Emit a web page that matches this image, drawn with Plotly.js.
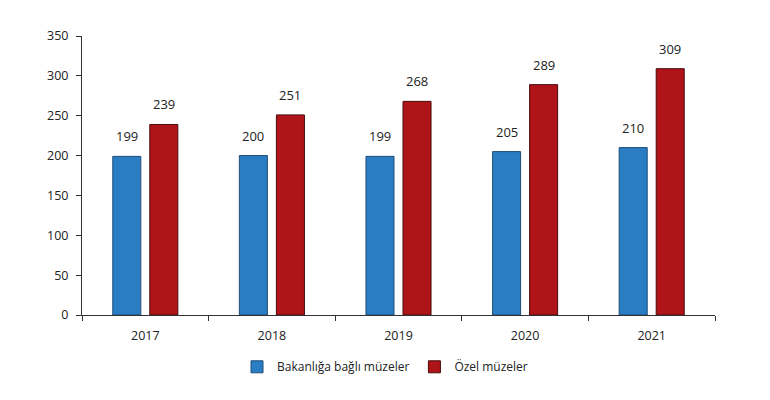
<!DOCTYPE html>
<html>
<head>
<meta charset="utf-8">
<script src="https://cdn.plot.ly/plotly-3.0.1.min.js"></script>
<style>
  html, body { margin: 0; padding: 0; background: #fff; }
  #graph { width: 770px; height: 400px; }
</style>
</head>
<body>
<div id="graph"></div>
<script>
// museum counts per year
const years = ['2017', '2018', '2019', '2020', '2021'];
const bakanlik = [199, 200, 199, 205, 210];
const ozel = [239, 251, 268, 289, 309];

const seriesNames = ['Bakanlığa bağlı müzeler', 'Özel müzeler'];
const font = 'Open Sans, Liberation Sans, sans-serif';

const trace1 = {
    type: 'bar',
    x: years,
    y: bakanlik,
    name: seriesNames[0],
    marker: {
        color: '#2A7DC3',
        line: { color: '#1E4E78', width: 1 }
    },
    hoverinfo: 'none'
};

const trace2 = {
    type: 'bar',
    x: years,
    y: ozel,
    name: seriesNames[1],
    marker: {
        color: '#AE1418',
        line: { color: '#4A0A0A', width: 1 }
    },
    hoverinfo: 'none'
};

// value labels sit a bit above each bar
// (x given as category index, numeric-looking strings get read as numbers)
const labels = [];
years.forEach((yr, i) => {
    labels.push({ x: i, y: bakanlik[i], text: String(bakanlik[i]), xshift: -18.5 });
    labels.push({ x: i, y: ozel[i], text: String(ozel[i]), xshift: 18.5 });
});
const annotations = labels.map(a => ({
    x: a.x, y: a.y, text: a.text,
    xref: 'x', yref: 'y',
    xshift: a.xshift, yshift: 9,
    yanchor: 'bottom',
    showarrow: false,
    font: { family: font, size: 13, color: '#222' }
}));

const layout = {
    width: 770,
    height: 400,
    margin: { l: 82, r: 55, t: 36, b: 85, pad: 0 },
    paper_bgcolor: '#fff',
    plot_bgcolor: '#fff',
    font: { family: font, size: 12, color: '#222' },
    barmode: 'group',
    bargap: 0.415,
    bargroupgap: 0.243,
    showlegend: true,
    legend: {
        orientation: 'h',
        xref: 'container',
        yref: 'container',
        x: 0.5,
        xanchor: 'center',
        y: 0.083,
        yanchor: 'middle',
        font: { family: font, size: 12, color: '#222' },
        itemwidth: 30,
        tracegroupgap: 0
    },
    xaxis: {
        type: 'category',
        range: [-0.5, 4.5],
        showline: true,
        linecolor: '#333',
        linewidth: 1,
        ticks: 'outside',
        tickson: 'boundaries',
        ticklen: 5,
        tickcolor: '#333',
        ticklabelstandoff: 9,
        showgrid: false,
        zeroline: false,
        tickfont: { family: font, size: 12.5, color: '#222' }
    },
    yaxis: {
        range: [0, 350],
        dtick: 50,
        showline: true,
        linecolor: '#333',
        linewidth: 1,
        ticks: 'outside',
        ticklen: 5,
        tickcolor: '#333',
        ticklabelstandoff: 5,
        showgrid: false,
        zeroline: false,
        tickfont: { family: font, size: 12.5, color: '#222' }
    },
    annotations: annotations
};

Plotly.newPlot('graph', [trace1, trace2], layout, { displayModeBar: false, staticPlot: true });
</script>
</body>
</html>
